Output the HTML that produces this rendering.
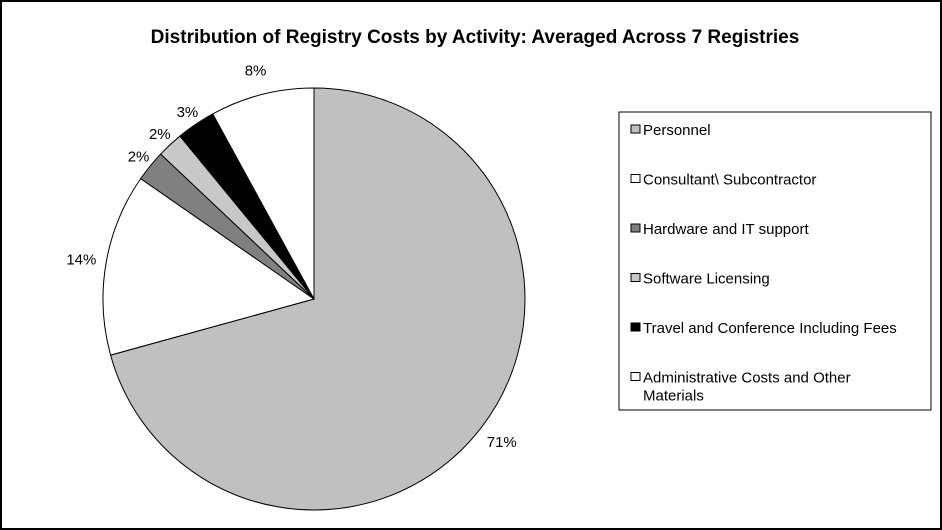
<!DOCTYPE html>
<html><head><meta charset="utf-8"><style>
body{margin:0;background:#fff;}
svg{display:block;font-family:"Liberation Sans",sans-serif;}
</style></head><body>
<svg id="c" width="942" height="530">
<rect x="1" y="1" width="940" height="528" fill="#fff" stroke="#000" stroke-width="2"/>
<text x="475" y="43" text-anchor="middle" font-size="19" font-weight="bold">Distribution of Registry Costs by Activity: Averaged Across 7 Registries</text>
<g id="pie"></g>
<rect x="619" y="112" width="312" height="298" fill="#fff" stroke="#000" stroke-width="1"/>
<g id="legend"></g>
</svg>
<script>
const categories=["Personnel","Consultant\\ Subcontractor","Hardware and IT support","Software Licensing","Travel and Conference Including Fees","Administrative Costs and Other Materials"];
const values=[71,14,2.4,2,3,8];
const labels=["71%","14%","2%","2%","3%","8%"];
const colors=["#c0c0c0","#ffffff","#808080","#c8c8c8","#000000","#ffffff"];
const NS="http://www.w3.org/2000/svg";
const cx=314,cy=299,r=211;
const pie=document.getElementById('pie');
const total=values.reduce((a,b)=>a+b,0);
function pt(a,rad){return [cx+rad*Math.sin(a),cy-rad*Math.cos(a)];}
let acc=0;
values.forEach((v,i)=>{
  const a0=acc/total*2*Math.PI; acc+=v; const a1=acc/total*2*Math.PI;
  const p0=pt(a0,r),p1=pt(a1,r);
  const large=(a1-a0)>Math.PI?1:0;
  const p=document.createElementNS(NS,'path');
  p.setAttribute('d',`M${cx},${cy}L${p0[0]},${p0[1]}A${r},${r} 0 ${large} 1 ${p1[0]},${p1[1]}Z`);
  p.setAttribute('fill',colors[i]);p.setAttribute('stroke','#000');p.setAttribute('stroke-width','1');
  
  
  pie.appendChild(p);
  const m=(a0+a1)/2;const lp=pt(m,v<5?226:236);
  const t=document.createElementNS(NS,'text');
  t.setAttribute('x',lp[0]);t.setAttribute('y',lp[1]+5);t.setAttribute('text-anchor','middle');t.setAttribute('font-size','15');
  t.textContent=labels[i];
  
  
  pie.appendChild(t);
});
const lg=document.getElementById('legend');
const rows=[["Personnel"],["Consultant\\ Subcontractor"],["Hardware and IT support"],["Software Licensing"],["Travel and Conference Including Fees"],["Administrative Costs and Other","Materials"]];
rows.forEach((lines,i)=>{
  const y=130+i*49.5;
  const s=document.createElementNS(NS,'rect');
  s.setAttribute('x',631);s.setAttribute('y',y-5);s.setAttribute('width',9);s.setAttribute('height',8);
  s.setAttribute('fill',colors[i]);s.setAttribute('stroke','#000');
  
  
  lg.appendChild(s);
  lines.forEach((ln,j)=>{
    const t=document.createElementNS(NS,'text');
    t.setAttribute('x',643);t.setAttribute('y',y+5+j*18);t.setAttribute('font-size','15');
    t.textContent=ln;
    
    
    lg.appendChild(t);
  });
});
</script>
</body></html>
